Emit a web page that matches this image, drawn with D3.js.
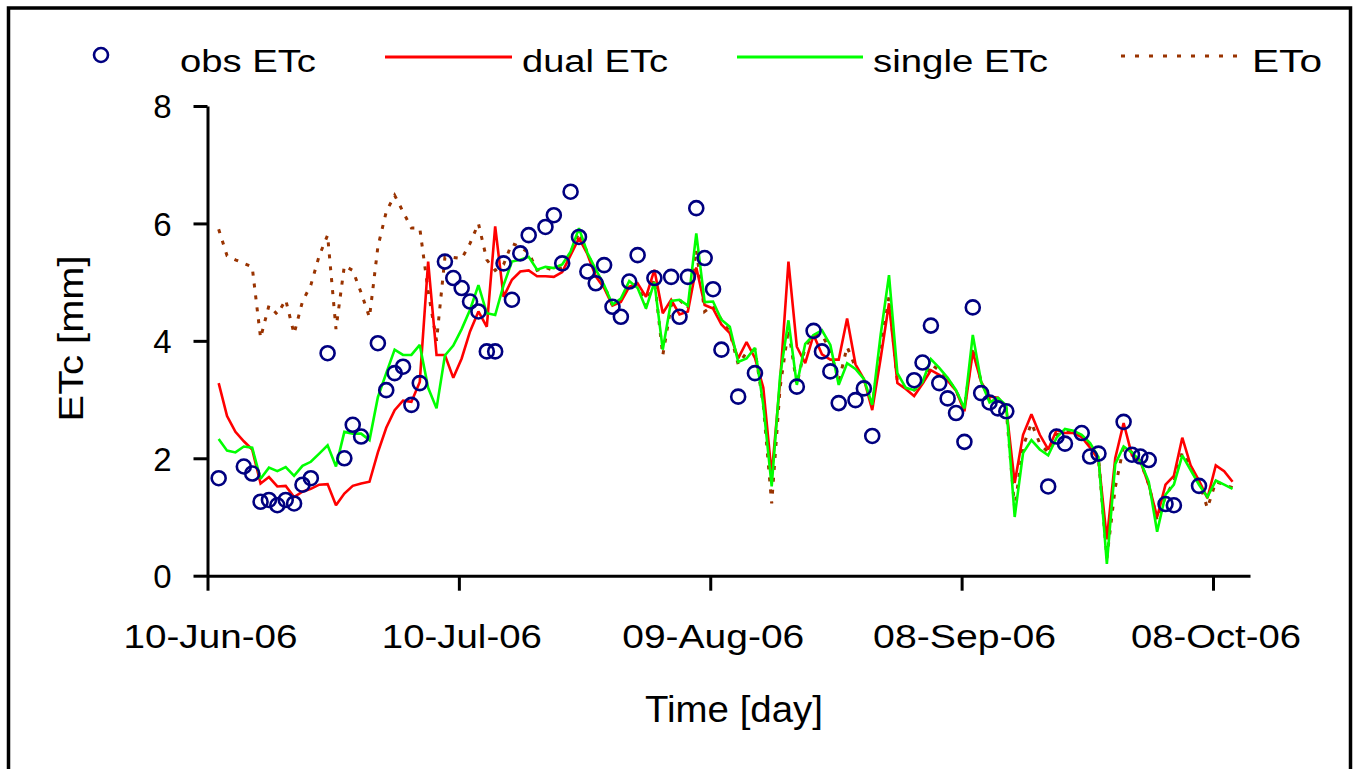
<!DOCTYPE html>
<html>
<head>
<meta charset="utf-8">
<script src="https://cdn.jsdelivr.net/npm/d3@7"></script>
<style>
html,body{margin:0;padding:0;background:#fff;}
svg{display:block;}
text{font-family:"Liberation Sans",Arial,sans-serif;fill:#000;}
</style>
</head>
<body>
<svg id="c" width="1358" height="769"></svg>
<script>
// ---------------- data ----------------
// daily model values, first value = 11-Jun-06
const dualETc = [
 3.28,2.72,2.45,2.29,2.15,1.57,1.68,1.52,1.53,1.34,
 1.43,1.48,1.55,1.56,1.20,1.40,1.53,1.57,1.60,2.10,
 2.52,2.82,2.98,2.96,3.30,5.35,3.76,3.76,3.37,3.70,
 4.16,4.50,4.24,5.95,4.75,5.04,5.18,5.20,5.10,5.10,
 5.09,5.17,5.46,5.75,5.48,5.10,4.90,4.60,4.66,4.92,
 4.98,4.75,5.21,4.47,4.70,4.45,4.50,5.25,4.61,4.55,
 4.28,4.13,3.70,3.98,3.71,3.20,1.72,3.30,5.35,3.90,
 3.62,4.10,3.77,3.68,3.68,4.38,3.60,3.35,2.82,3.70,
 4.64,3.28,3.18,3.06,3.27,3.50,3.42,3.32,3.15,2.80,
 3.81,3.30,3.05,3.03,2.85,1.58,2.40,2.75,2.40,2.15,
 2.48,2.43,2.43,2.36,2.18,1.98,0.62,2.00,2.60,2.05,
 1.95,1.55,1.00,1.55,1.70,2.35,1.88,1.62,1.32,1.88,
 1.78,1.60
];
const singleETc = [
 2.33,2.13,2.10,2.20,2.18,1.65,1.84,1.78,1.85,1.70,
 1.87,1.94,2.08,2.22,1.86,2.45,2.42,2.42,2.31,3.04,
 3.45,3.85,3.76,3.76,3.93,3.20,2.85,3.75,3.92,4.20,
 4.53,4.95,4.47,4.44,4.95,5.35,5.38,5.43,5.21,5.26,
 5.24,5.30,5.52,5.92,5.50,5.22,4.95,4.62,4.72,5.02,
 4.90,4.55,5.00,3.85,4.68,4.70,4.60,5.83,4.66,4.67,
 4.36,4.24,3.64,3.70,3.88,2.90,1.52,3.40,4.35,3.25,
 3.95,4.10,4.18,3.93,3.25,3.62,3.52,3.35,2.91,4.10,
 5.12,3.45,3.20,3.16,3.30,3.69,3.54,3.37,3.16,2.85,
 4.10,3.30,2.95,3.03,2.90,1.00,2.09,2.31,2.15,2.05,
 2.35,2.50,2.47,2.40,2.26,2.02,0.20,1.90,2.20,2.10,
 1.95,1.60,0.75,1.38,1.55,2.05,1.80,1.55,1.34,1.62,
 1.55,1.48
];
const ETo = [
 5.90,5.45,5.38,5.32,5.26,4.05,4.60,4.45,4.70,4.12,
 4.67,4.95,5.45,5.80,4.20,5.28,5.20,4.82,4.40,5.60,
 6.20,6.48,6.20,5.92,5.92,4.85,4.00,5.42,5.42,5.40,
 5.66,6.00,5.38,5.20,5.30,5.66,5.60,5.50,5.20,5.25,
 5.20,5.25,5.50,5.85,5.50,5.15,4.95,4.60,4.70,4.95,
 4.95,4.60,5.05,3.75,4.60,4.70,4.55,5.55,4.50,4.60,
 4.36,4.15,3.60,3.80,3.85,2.90,1.23,3.20,4.20,3.25,
 3.90,4.10,4.10,3.85,3.30,3.90,3.55,3.35,2.90,3.90,
 4.75,3.30,3.20,3.16,3.28,3.60,3.50,3.35,3.15,2.85,
 3.90,3.30,3.00,3.03,2.80,1.15,2.20,2.60,2.25,2.10,
 2.40,2.45,2.45,2.38,2.22,2.00,0.30,1.50,2.20,2.10,
 1.95,1.55,0.95,1.35,1.60,2.10,1.85,1.60,1.15,1.60,
 1.55,1.50
];
// observed ETc: day number after 10-Jun-06 and value
const obsDay = [1,4,5,6,7,8,9,10,11,12,14,16,17,18,20,21,22,23,24,25,
 28,29,30,31,32,33,34,35,36,37,38,40,41,42,43,44,45,46,47,48,
 49,50,51,53,55,56,57,58,59,60,61,63,65,70,72,73,74,75,77,78,
 79,84,85,86,87,88,89,90,91,92,93,94,95,100,101,102,104,105,106,109,
 110,111,112,114,115,118];
const obsETc = [1.66,1.86,1.74,1.26,1.29,1.20,1.29,1.23,1.55,1.66,3.79,2.00,2.57,2.37,3.96,3.16,3.45,3.56,2.91,3.28,
 5.35,5.07,4.90,4.67,4.50,3.82,3.82,5.32,4.70,5.49,5.80,5.94,6.14,5.32,6.54,5.77,5.18,4.98,5.29,4.58,
 4.41,5.01,5.46,5.07,5.09,4.41,5.09,6.26,5.41,4.88,3.85,3.05,3.45,3.22,4.17,3.82,3.48,2.94,2.99,3.19,
 2.38,3.33,3.63,4.26,3.28,3.02,2.77,2.28,4.57,3.11,2.95,2.85,2.80,1.52,2.37,2.25,2.43,2.03,2.08,2.62,
 2.06,2.03,1.97,1.22,1.20,1.53];
const xTickDays = [0,30,60,90,120];
const xTickLabels = ["10-Jun-06","10-Jul-06","09-Aug-06","08-Sep-06","08-Oct-06"];
const yTicks = [0,2,4,6,8];
const legendLabels = ["obs ETc","dual ETc","single ETc","ETo"];
const axisTitles = {x:"Time [day]", y:"ETc [mm]"};

// ---------------- layout ----------------
const FONT = '"Liberation Sans", Arial, sans-serif';
const xTickWidths = [174,160,182,183,170];
const legendTextX = [180,522,873,1252];
const legendTextW = [136,146,175,70];
const C = {obs:"#000080", dual:"#ff0000", single:"#00ff00", eto:"#993300"};

const dayDate = (d, h=0) => new Date(2006, 5, 10 + d, h);
const x = d3.scaleTime().domain([dayDate(0), dayDate(124, 10)]).range([207.5, 1250]);
const y = d3.scaleLinear().domain([0, 8]).range([575.7, 106]);

const svg = d3.select("#c");
svg.append("rect").attr("x",8.5).attr("y",8).attr("width",1342).attr("height",820)
  .attr("fill","#fff").attr("stroke","#000").attr("stroke-width",3.5);

// x axis
const gx = svg.append("g").attr("transform",`translate(0,${y(0)})`)
  .call(d3.axisBottom(x).tickValues(xTickDays.map(d=>dayDate(d)))
    .tickFormat((d,i)=>xTickLabels[i]).tickSize(15).tickSizeOuter(0));
gx.attr("font-family",FONT).attr("font-size",33);
gx.select(".domain").attr("stroke","#000").attr("stroke-width",3);
gx.selectAll(".tick line").attr("stroke","#000").attr("stroke-width",3);
gx.selectAll(".tick text").attr("y",72).attr("dy",null).attr("dx",2.5).attr("fill","#000")
  .attr("textLength",(d,i)=>xTickWidths[i]).attr("lengthAdjust","spacingAndGlyphs");

// y axis
const gy = svg.append("g").attr("transform",`translate(${x.range()[0]},0)`)
  .call(d3.axisLeft(y).tickValues(yTicks).tickFormat(d3.format("d"))
    .tickSize(14).tickPadding(22).tickSizeOuter(0));
gy.attr("font-family",FONT).attr("font-size",33);
gy.select(".domain").attr("stroke","#000").attr("stroke-width",3);
gy.selectAll(".tick line").attr("stroke","#000").attr("stroke-width",3);
gy.selectAll(".tick text").attr("dy","0.36em").attr("fill","#000");

// titles
svg.append("text").attr("x",734).attr("y",722).attr("text-anchor","middle")
  .attr("font-size",36).attr("textLength",178).attr("lengthAdjust","spacingAndGlyphs").text(axisTitles.x);
svg.append("text").attr("transform","translate(83,338.4) rotate(-90)").attr("text-anchor","middle")
  .attr("font-size",35).attr("textLength",166).attr("lengthAdjust","spacingAndGlyphs").text(axisTitles.y);

// series
const line = d3.line().x((v,i)=>x(dayDate(i+1, 8))).y(v=>y(v));
svg.append("path").datum(ETo).attr("d",line).attr("fill","none")
  .attr("stroke",C.eto).attr("stroke-width",3).attr("stroke-dasharray","4,8");
svg.append("path").datum(dualETc).attr("d",line).attr("fill","none")
  .attr("stroke",C.dual).attr("stroke-width",2.6).attr("stroke-linejoin","miter").attr("stroke-miterlimit",2);
svg.append("path").datum(singleETc).attr("d",line).attr("fill","none")
  .attr("stroke",C.single).attr("stroke-width",2.6).attr("stroke-linejoin","miter").attr("stroke-miterlimit",2);
svg.append("g").selectAll("circle").data(obsDay).join("circle")
  .attr("cx",d=>x(dayDate(d, 8))).attr("cy",(d,i)=>y(obsETc[i])).attr("r",7)
  .attr("fill","none").attr("stroke",C.obs).attr("stroke-width",2.6);

// legend
const lg = svg.append("g").attr("font-size",31);
lg.append("circle").attr("cx",101).attr("cy",55).attr("r",7).attr("fill","none")
  .attr("stroke",C.obs).attr("stroke-width",2.6);
lg.append("line").attr("x1",385).attr("x2",512).attr("y1",57).attr("y2",57).attr("stroke",C.dual).attr("stroke-width",3);
lg.append("line").attr("x1",737).attr("x2",863).attr("y1",57).attr("y2",57).attr("stroke",C.single).attr("stroke-width",3);
lg.append("line").attr("x1",1121).attr("x2",1241).attr("y1",56).attr("y2",56).attr("stroke",C.eto)
  .attr("stroke-width",3).attr("stroke-dasharray","4,10");
legendLabels.forEach((t,i)=>{
  lg.append("text").attr("x",legendTextX[i]).attr("y",72).attr("textLength",legendTextW[i])
    .attr("lengthAdjust","spacingAndGlyphs").text(t);
});
</script>
</body>
</html>
